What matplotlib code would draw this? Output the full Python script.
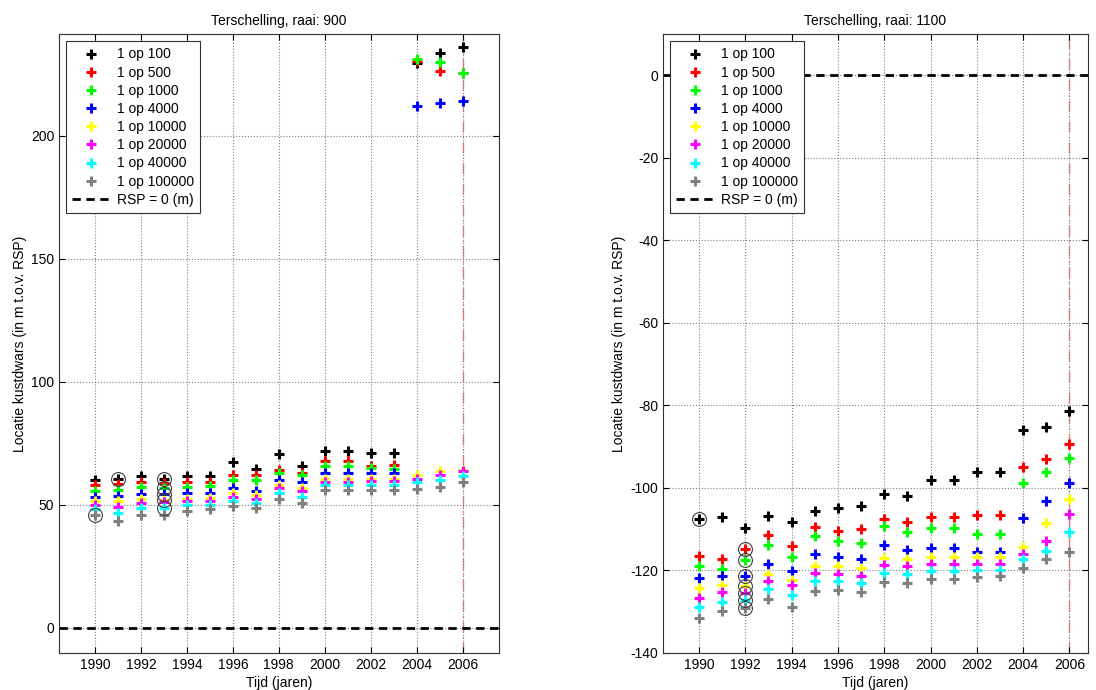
import numpy as np
import matplotlib
matplotlib.use("Agg")
import matplotlib.pyplot as plt
from matplotlib.lines import Line2D

plt.rcParams['font.family'] = ['Liberation Sans', 'DejaVu Sans']
plt.rcParams['axes.unicode_minus'] = False

# Terugkeertijden en kleuren per reeks
LABELS = ['1 op 100', '1 op 500', '1 op 1000', '1 op 4000',
          '1 op 10000', '1 op 20000', '1 op 40000', '1 op 100000']
COLORS = ['#000000', '#ff0000', '#00ff00', '#0000ff',
          '#ffff00', '#ff00ff', '#00ffff', '#808080']

YEARS = np.arange(1990, 2007)
XTICKS = np.arange(1990, 2007, 2)

# Raai 900: locatie per jaar (m t.o.v. RSP), een rij per terugkeertijd
RAAI_900 = [
    [60.0, 60.6, 61.7, 60.3, 61.7, 61.7, 67.4, 64.6, 70.6, 65.7, 72.0, 72.0, 71.1, 71.1, 229.5, 233.7, 235.9],
    [57.9, 58.4, 59.2, 58.7, 59.2, 59.2, 62.0, 62.2, 64.1, 63.0, 67.9, 67.9, 65.7, 66.0, 230.3, 226.4, 225.6],
    [55.7, 56.0, 57.3, 56.8, 57.3, 57.6, 60.0, 60.0, 62.8, 62.0, 65.7, 65.7, 64.9, 64.6, 231.1, 230.0, 225.4],
    [53.3, 53.5, 54.3, 54.3, 54.6, 54.9, 56.8, 55.7, 60.0, 59.2, 62.8, 62.8, 63.0, 63.0, 212.1, 213.4, 214.2],
    [51.4, 51.4, 52.2, 51.9, 52.4, 52.7, 54.6, 53.8, 57.9, 56.8, 60.3, 60.3, 60.6, 60.6, 62.0, 63.8, 64.1],
    [50.0, 49.2, 50.6, 51.1, 51.4, 51.6, 53.0, 52.2, 56.8, 55.4, 59.2, 59.2, 59.5, 59.5, 60.6, 62.0, 63.6],
    [48.4, 46.7, 48.7, 48.7, 50.0, 50.0, 51.6, 50.8, 54.9, 53.3, 58.1, 58.1, 58.1, 58.1, 59.0, 60.0, 61.7],
    [45.9, 43.5, 45.9, 45.7, 47.6, 48.1, 49.5, 48.7, 52.2, 50.6, 56.0, 56.0, 56.0, 56.0, 56.3, 57.3, 59.2],
]

# Raai 1100
RAAI_1100 = [
    [-107.7, -107.2, -109.7, -106.8, -108.3, -105.6, -105.0, -104.4, -101.5, -101.9, -98.1, -98.1, -96.3, -96.3, -86.0, -85.4, -81.5],
    [-116.6, -117.3, -114.8, -111.5, -114.2, -109.5, -110.6, -110.0, -107.5, -108.3, -107.0, -107.0, -106.6, -106.6, -94.9, -93.0, -89.3],
    [-118.9, -119.8, -117.6, -113.8, -116.7, -111.8, -113.0, -113.4, -109.4, -110.7, -109.7, -109.7, -111.3, -111.3, -98.8, -96.1, -92.7],
    [-121.9, -121.5, -121.3, -118.6, -120.3, -116.1, -116.9, -117.2, -113.9, -115.1, -114.6, -114.6, -115.6, -115.6, -107.4, -103.2, -98.8],
    [-124.4, -123.5, -123.8, -120.9, -122.3, -118.9, -119.1, -119.5, -117.0, -117.4, -116.8, -116.8, -116.9, -116.9, -114.3, -108.6, -102.8],
    [-126.7, -125.3, -125.5, -122.6, -123.7, -120.7, -120.9, -121.3, -118.8, -119.1, -118.5, -118.5, -118.5, -118.5, -116.0, -113.0, -106.5],
    [-129.0, -127.8, -127.2, -124.5, -126.0, -122.6, -122.7, -123.0, -120.8, -120.9, -120.3, -120.3, -119.9, -119.9, -117.4, -115.3, -110.7],
    [-131.7, -129.8, -129.1, -127.0, -128.9, -125.0, -124.8, -125.3, -122.8, -123.2, -122.2, -122.2, -121.7, -121.5, -119.5, -117.2, -115.6],
]

# Omcirkelde punten: (reeks-index, jaar)
CIRCLES_900 = [(7, 1990), (0, 1991), (0, 1993), (2, 1993), (3, 1993), (4, 1993), (6, 1993)]
CIRCLES_1100 = [(0, 1990), (1, 1992), (2, 1992), (3, 1992), (4, 1992), (5, 1992), (6, 1992), (7, 1992)]

FIG_W, FIG_H = 1096, 690
DPI = 100
FS = 10


def draw_raai(ax, data, circles, title, xlim, ylim, yticks):
    for vals, col, lab in zip(data, COLORS, LABELS):
        ax.plot(YEARS, vals, linestyle='none', marker='+', color=col,
                markersize=7.5, markeredgewidth=2.2, label=lab, zorder=3)

    for idx, yr in circles:
        ax.plot(yr, data[idx][yr - YEARS[0]], linestyle='none', marker='o',
                markersize=10, fillstyle='none', markeredgecolor='#404040',
                markeredgewidth=0.8, zorder=4)

    ax.axhline(0, color='black', linestyle=(0, (3, 2)), linewidth=2, zorder=2)
    ax.axvline(2006, color='#f08080', linestyle=(0, (8, 3, 1, 3)), linewidth=1, zorder=1)

    ax.set_xlim(*xlim)
    ax.set_ylim(*ylim)
    ax.set_xticks(XTICKS)
    ax.set_yticks(yticks)
    ax.grid(True, linestyle=':', color='#808080', linewidth=0.8)
    ax.tick_params(direction='in', top=True, right=True, labelsize=FS, length=4)
    for sp in ax.spines.values():
        sp.set_color('#303030')
        sp.set_linewidth(0.8)

    ax.set_title(title, fontsize=FS, pad=7)
    ax.set_xlabel('Tijd (jaren)', fontsize=FS, labelpad=3)
    ax.set_ylabel('Locatie kustdwars (in m t.o.v. RSP)', fontsize=FS, labelpad=3)

    handles = [Line2D([], [], linestyle='none', marker='+', color=c,
                      markersize=7.5, markeredgewidth=2.2) for c in COLORS]
    handles.append(Line2D([], [], color='black', linestyle=(0, (3, 2)), linewidth=2))
    leg = ax.legend(handles, LABELS + ['RSP = 0 (m)'], loc='upper left',
                    fontsize=FS, frameon=True, fancybox=False, framealpha=1,
                    borderaxespad=0.5, handlelength=2.7, handletextpad=0.5,
                    labelspacing=0.3, borderpad=0.45)
    leg.get_frame().set_edgecolor('#303030')
    leg.get_frame().set_linewidth(0.8)
    leg.set_zorder(10)


def px_rect(x0, y0, x1, y1):
    return [x0 / FIG_W, 1 - y1 / FIG_H, (x1 - x0) / FIG_W, (y1 - y0) / FIG_H]


def main():
    fig = plt.figure(figsize=(FIG_W / DPI, FIG_H / DPI), dpi=DPI)
    ax1 = fig.add_axes(px_rect(59, 34.3, 499.3, 652.7))
    ax2 = fig.add_axes(px_rect(663, 34.3, 1088, 652.7))

    draw_raai(ax1, RAAI_900, CIRCLES_900, 'Terschelling, raai: 900',
              (1988.43, 2007.6), (-10.2, 241.2), np.arange(0, 201, 50))
    draw_raai(ax2, RAAI_1100, CIRCLES_1100, 'Terschelling, raai: 1100',
              (1988.45, 2006.8), (-140, 9.9), np.arange(-140, 1, 20))

    fig.savefig('out.png', dpi=DPI)


if __name__ == "__main__":
    main()
